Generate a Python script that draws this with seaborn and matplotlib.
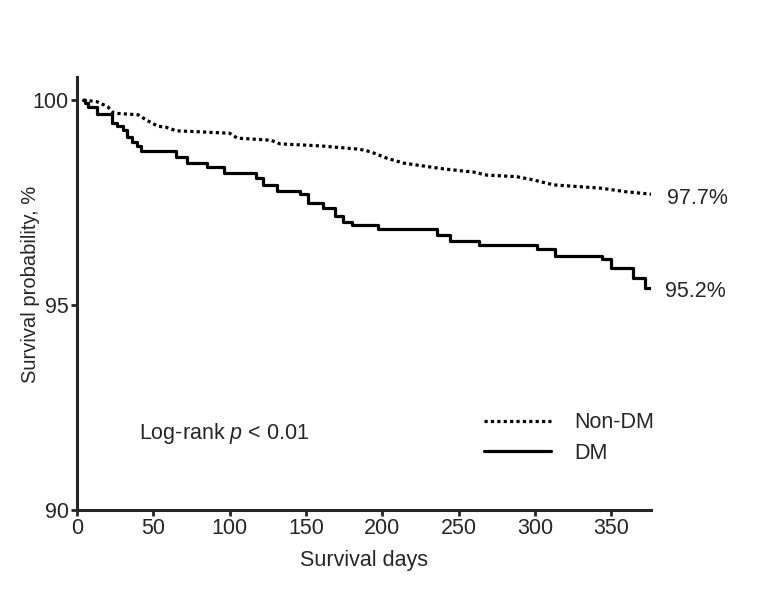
import pandas as pd
import seaborn as sns
import matplotlib.pyplot as plt

# Kaplan-Meier estimates (day, survival %)
dm_days = [4, 5, 7, 13, 23, 26, 30, 33, 36, 39, 42, 65, 72, 85, 96, 117, 122, 131, 146, 151,
           161, 169, 174, 180, 197, 236, 244, 263, 301, 313, 344, 350, 364, 372, 376]
dm_surv = [100.0, 99.92, 99.84, 99.67, 99.44, 99.36, 99.27, 99.10, 98.98, 98.88, 98.76, 98.60,
           98.47, 98.36, 98.23, 98.09, 97.93, 97.79, 97.71, 97.49, 97.37, 97.16, 97.03, 96.95,
           96.85, 96.71, 96.56, 96.46, 96.36, 96.20, 96.11, 95.89, 95.67, 95.42, 95.42]

nondm_days = [4, 13, 20, 24, 40, 46, 53, 58, 65, 100, 105, 127, 133, 160, 185, 192,
              203, 214, 240, 260, 268, 288, 299, 312, 343, 360, 377]
nondm_surv = [100.0, 99.96, 99.84, 99.68, 99.64, 99.50, 99.36, 99.34, 99.25,
              99.19, 99.07, 99.02, 98.93, 98.88, 98.80, 98.74, 98.58, 98.46, 98.32,
              98.24, 98.17, 98.13, 98.05, 97.93, 97.85, 97.76, 97.70]

end_labels = ["97.7%", "95.2%"]

df_dm = pd.DataFrame({'day': dm_days, 'surv': dm_surv})
df_non = pd.DataFrame({'day': nondm_days, 'surv': nondm_surv})

sns.set_style("ticks")
plt.rcParams['font.family'] = ['Liberation Sans', 'DejaVu Sans']
plt.rcParams['mathtext.fontset'] = 'custom'
plt.rcParams['mathtext.it'] = 'Liberation Sans:italic'
plt.rcParams['mathtext.rm'] = 'Liberation Sans'

fs = 15.5

fig, ax = plt.subplots(figsize=(7.67, 6.07), dpi=100)
fig.subplots_adjust(left=0.1004, right=0.849, bottom=0.16, top=0.873)

sns.lineplot(data=df_non, x='day', y='surv', ax=ax, color='black', lw=2.3,
             label='Non-DM', linestyle=(0, (1, 1)))
sns.lineplot(data=df_dm, x='day', y='surv', ax=ax, color='black', lw=2.3,
             drawstyle='steps-post', label='DM')

ax.set_xlim(0, 376)
ax.set_ylim(90, 100.56)
ax.set_xticks([0, 50, 100, 150, 200, 250, 300, 350])
ax.set_yticks([90, 95, 100])
ax.set_xlabel('Survival days', fontsize=fs, labelpad=8)
ax.set_ylabel('Survival probability, %', fontsize=14.5)
ax.yaxis.set_label_coords(-0.064, 0.52)
ax.tick_params(labelsize=fs, width=2, length=4.5, pad=1.5)
for s in ['top', 'right']:
    ax.spines[s].set_visible(False)
for s in ['left', 'bottom']:
    ax.spines[s].set_linewidth(2.2)

# end-of-curve percentages
for days, surv, lab in [(nondm_days, nondm_surv, end_labels[0]), (dm_days, dm_surv, end_labels[1])]:
    ax.annotate(lab, xy=(days[-1], surv[-1]), xytext=(10, -3), textcoords='offset points',
                fontsize=fs, va='center', ha='left', annotation_clip=False)

ax.text(0.108, 0.176, 'Log-rank $p$ < 0.01', transform=ax.transAxes, fontsize=fs, va='center')

leg = ax.legend(loc='upper left', bbox_to_anchor=(0.709, 0.226), frameon=False, fontsize=fs,
                handlelength=3.1, handletextpad=1.1, labelspacing=0.45,
                borderpad=0, borderaxespad=0)

plt.savefig('out.png', dpi=100)
